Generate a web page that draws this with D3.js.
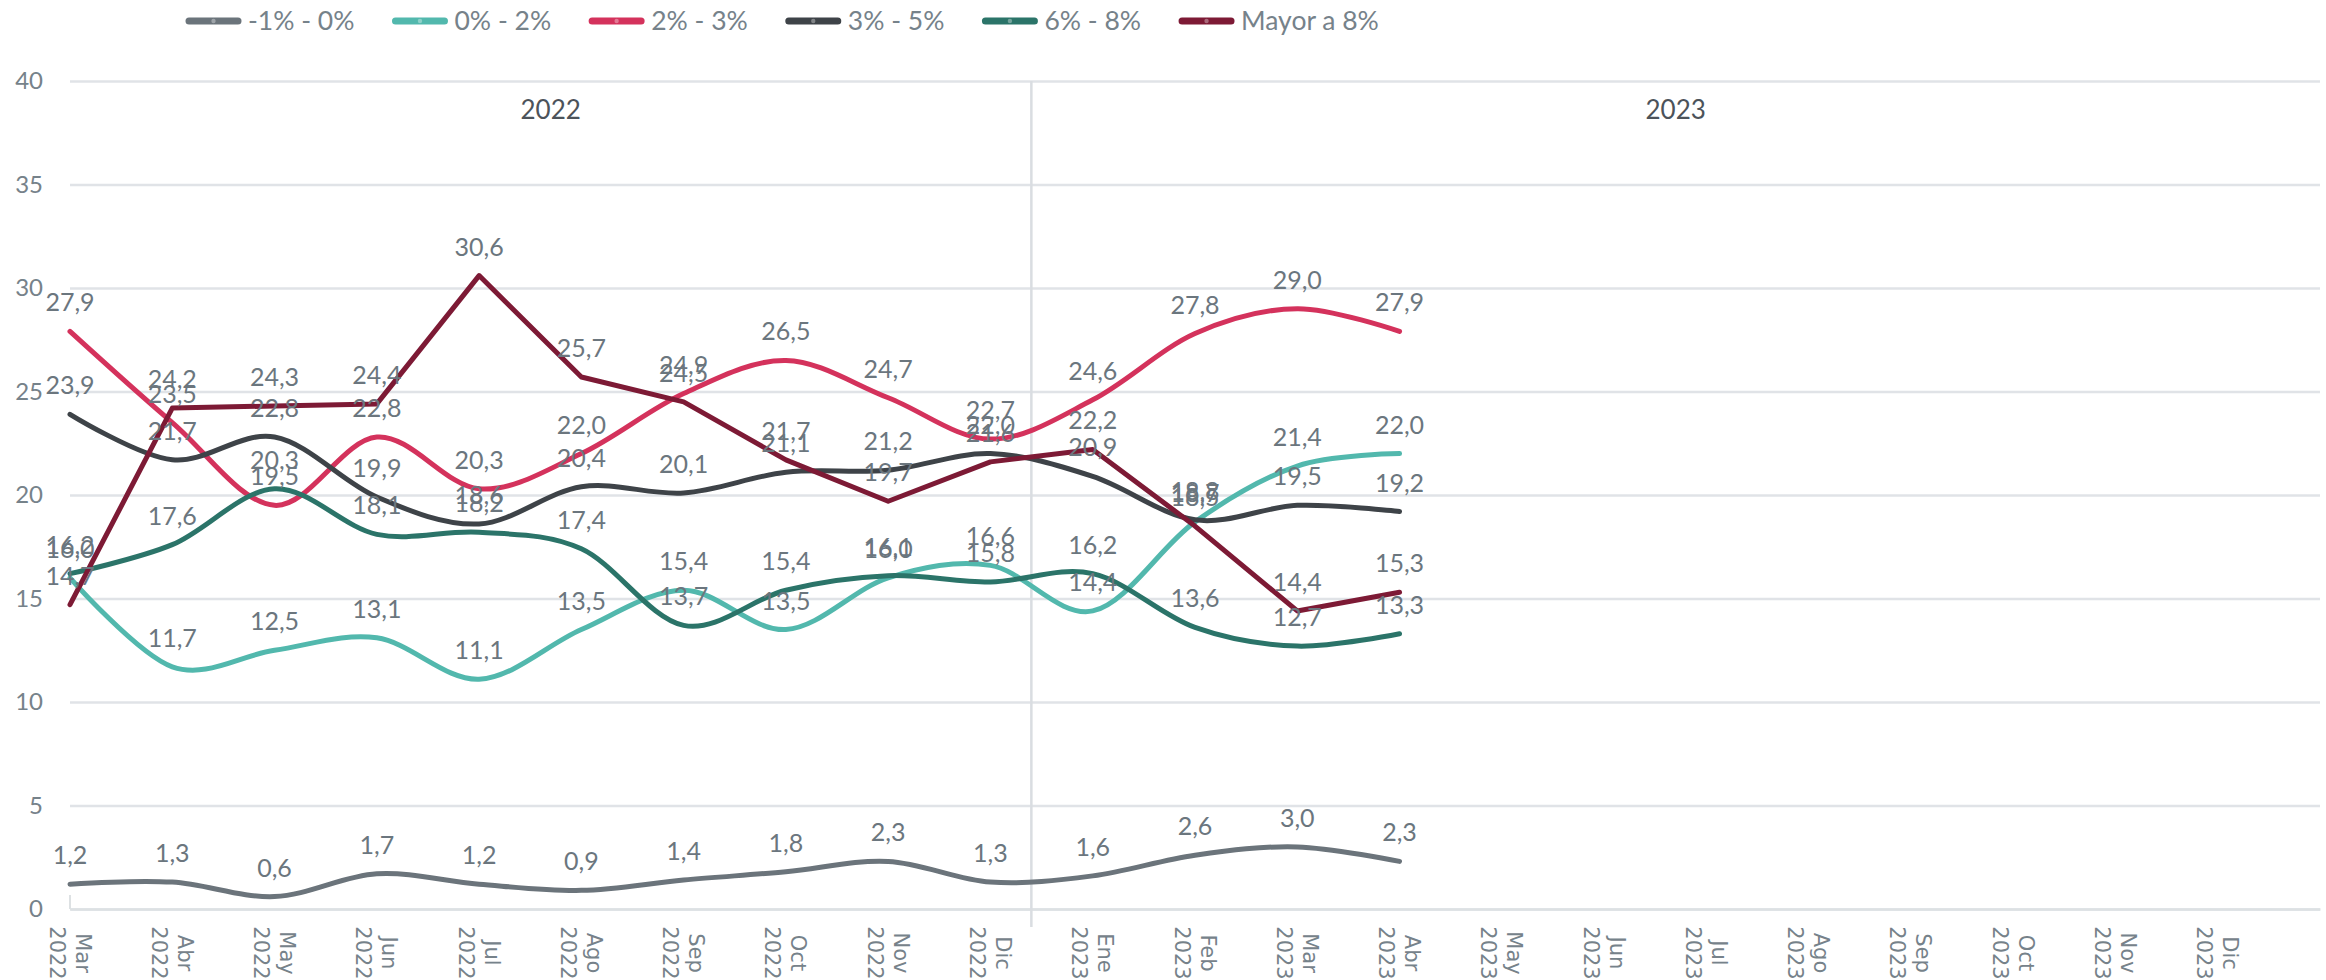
<!DOCTYPE html>
<html>
<head>
<meta charset="utf-8">
<script src="https://cdn.jsdelivr.net/npm/d3@7"></script>
<style>
  body { margin: 0; background: #fff; }
  svg { display: block; font-family: Lato, "Open Sans", sans-serif; }
</style>
</head>
<body>
<svg width="2326" height="980"></svg>
<script>
// categories (x axis), two levels: month + year
var months = ["Mar","Abr","May","Jun","Jul","Ago","Sep","Oct","Nov","Dic",
              "Ene","Feb","Mar","Abr","May","Jun","Jul","Ago","Sep","Oct","Nov","Dic"];
var years  = ["2022","2022","2022","2022","2022","2022","2022","2022","2022","2022",
              "2023","2023","2023","2023","2023","2023","2023","2023","2023","2023","2023","2023"];
var groupNames = ["2022", "2023"];
var yTicks = [0, 5, 10, 15, 20, 25, 30, 35, 40];

var seriesNames  = ["-1% - 0%", "0% - 2%", "2% - 3%", "3% - 5%", "6% - 8%", "Mayor a 8%"];
var seriesColors = ["#6b747b", "#52b8ad", "#d4325c", "#3e4348", "#2b7469", "#7d1a35"];

// values Mar 2022 .. Abr 2023
var neg1to0   = [1.2, 1.3, 0.6, 1.7, 1.2, 0.9, 1.4, 1.8, 2.3, 1.3, 1.6, 2.6, 3.0, 2.3];
var from0to2  = [16.0, 11.7, 12.5, 13.1, 11.1, 13.5, 15.4, 13.5, 16.0, 16.6, 14.4, 18.7, 21.4, 22.0];
var from2to3  = [27.9, 23.5, 19.5, 22.8, 20.3, 22.0, 24.9, 26.5, 24.7, 22.7, 24.6, 27.8, 29.0, 27.9];
var from3to5  = [23.9, 21.7, 22.8, 19.9, 18.6, 20.4, 20.1, 21.1, 21.2, 22.0, 20.9, 18.8, 19.5, 19.2];
var from6to8  = [16.2, 17.6, 20.3, 18.1, 18.2, 17.4, 13.7, 15.4, 16.1, 15.8, 16.2, 13.6, 12.7, 13.3];
var over8     = [14.7, 24.2, 24.3, 24.4, 30.6, 25.7, 24.5, 21.7, 19.7, 21.6, 22.2, 18.5, 14.4, 15.3];

var seriesValues = [neg1to0, from0to2, from2to3, from3to5, from6to8, over8];
var smoothed = [true, true, true, true, true, false];

var svg = d3.select("svg"),
    margin = {top: 81, right: 6, bottom: 71, left: 70},
    width = +svg.attr("width") - margin.left - margin.right,
    height = +svg.attr("height") - margin.top - margin.bottom;

var gridColor = "#e0e3e7",
    textColor = "#76828a";

// one extra slot on the right like the original axis
var x = d3.scaleLinear().domain([0, months.length]).range([0, width]),
    y = d3.scaleLinear().domain([0, 40]).range([height, 0]);

var es = d3.formatLocale({decimal: ",", thousands: ".", grouping: [3], currency: ["", "€"]});
var fmt = es.format(".1f");

var g = svg.append("g")
    .attr("transform", "translate(" + margin.left + "," + margin.top + ")");

// y axis + gridlines
var yAxis = g.append("g")
    .attr("class", "axis axis--y")
    .call(d3.axisLeft(y).tickValues(yTicks).tickSize(-width).tickPadding(27));
yAxis.select(".domain").remove();
yAxis.selectAll(".tick line").attr("stroke", gridColor).attr("stroke-width", 2.5);
yAxis.selectAll(".tick text")
    .attr("fill", textColor)
    .style("font-size", "24px")
    .style("font-family", "Lato");

// x axis
var xAxis = g.append("g")
    .attr("class", "axis axis--x")
    .attr("transform", "translate(0," + height + ")")
    .call(d3.axisBottom(x).tickValues(d3.range(months.length)).tickSize(0).tickSizeOuter(0).tickFormat(""));
xAxis.select(".domain").attr("stroke", "#dde1e3").attr("stroke-width", 2.5);
xAxis.selectAll(".tick text").remove();

var xl = xAxis.selectAll(".tick").append("text")
    .attr("transform", "translate(0,44) rotate(90)")
    .attr("text-anchor", "middle")
    .attr("fill", textColor)
    .style("font-family", "DejaVu Sans")
    .style("font-size", "21px");
xl.append("tspan").attr("x", 0).attr("y", -5).text(function(d) { return months[d]; });
xl.append("tspan").attr("x", 0).attr("y", 21).text(function(d) { return years[d]; });

// small tick at the start of the axis
g.append("line")
    .attr("x1", x(0)).attr("x2", x(0))
    .attr("y1", height - 14).attr("y2", height)
    .attr("stroke", "#dde1e3").attr("stroke-width", 2);

// year separator and group labels
var split = x(9.4);
g.append("line")
    .attr("x1", split).attr("x2", split)
    .attr("y1", 0).attr("y2", height + 18)
    .attr("stroke", "#d9dde1").attr("stroke-width", 2.5);

var groupCenters = [(x(0) + split) / 2, (split + width) / 2];
g.selectAll(".group-label")
    .data(groupNames)
  .enter().append("text")
    .attr("class", "group-label")
    .attr("x", function(d, i) { return groupCenters[i]; })
    .attr("y", 29)
    .attr("dy", "0.35em")
    .attr("text-anchor", "middle")
    .attr("fill", "#4c535a")
    .style("font-size", "26px")
    .text(function(d) { return d; });

// lines
var series = seriesNames.map(function(name, i) {
  return {name: name, color: seriesColors[i], values: seriesValues[i], smooth: smoothed[i]};
});

series.forEach(function(s) {
  var line = d3.line()
      .x(function(d, i) { return x(i); })
      .y(function(d) { return y(d); })
      .curve(s.smooth ? d3.curveCardinal.tension(0) : d3.curveLinear);

  g.append("path")
      .datum(s.values)
      .attr("fill", "none")
      .attr("stroke", s.color)
      .attr("stroke-width", 5)
      .attr("stroke-linejoin", "round")
      .attr("stroke-linecap", "round")
      .attr("d", line);
});

// data labels on top
series.forEach(function(s) {
  g.append("g").selectAll("text")
      .data(s.values)
    .enter().append("text")
      .attr("x", function(d, i) { return x(i); })
      .attr("y", function(d) { return y(d) - 20; })
      .attr("text-anchor", "middle")
      .attr("fill", "#6b767e")
      .style("font-size", "25px")
      .text(function(d) { return fmt(d); });
});

// legend
var legend = svg.append("g").attr("transform", "translate(186,21)");
var lx = 0;
series.forEach(function(s) {
  var item = legend.append("g").attr("transform", "translate(" + lx + ",0)");
  item.append("line")
      .attr("x1", 3).attr("x2", 52)
      .attr("stroke", s.color)
      .attr("stroke-width", 7)
      .attr("stroke-linecap", "round");
  item.append("circle")
      .attr("cx", 27.5).attr("r", 2.2)
      .attr("fill", "#fff").attr("opacity", 0.35);
  var t = item.append("text")
      .attr("x", 62)
      .attr("dy", "0.35em")
      .attr("fill", textColor)
      .style("font-size", "26.5px")
      .text(s.name);
  lx += 62 + t.node().getComputedTextLength() + 38;
});
</script>
</body>
</html>
